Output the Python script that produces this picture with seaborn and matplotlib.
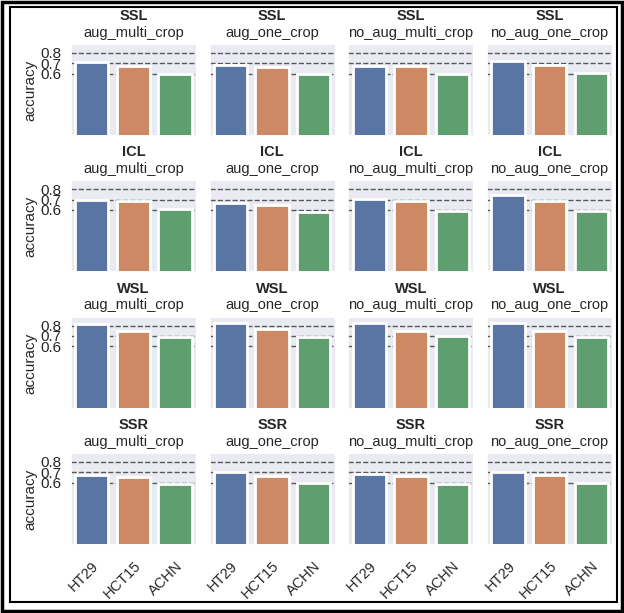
import pandas as pd
import matplotlib.pyplot as plt
import seaborn as sns
from matplotlib.patches import Rectangle

# ----------------------------
# Data
# ----------------------------
methods = ["SSL", "ICL", "WSL", "SSR"]
settings = ["aug_multi_crop", "aug_one_crop", "no_aug_multi_crop", "no_aug_one_crop"]
cell_lines = ["HT29", "HCT15", "ACHN"]

# accuracy per method -> one list per setting, in cell_lines order
ssl_acc = [[0.71, 0.675, 0.60], [0.683, 0.663, 0.592], [0.677, 0.673, 0.592], [0.725, 0.683, 0.609]]
icl_acc = [[0.693, 0.69, 0.606], [0.67, 0.646, 0.583], [0.706, 0.686, 0.59], [0.743, 0.683, 0.59]]
wsl_acc = [[0.813, 0.746, 0.686], [0.82, 0.763, 0.693], [0.826, 0.746, 0.696], [0.823, 0.743, 0.69]]
ssr_acc = [[0.678, 0.659, 0.587], [0.698, 0.666, 0.593], [0.685, 0.666, 0.587], [0.698, 0.669, 0.593]]

yticks = [0.6, 0.7, 0.8]

rows = []
for m, acc in zip(methods, [ssl_acc, icl_acc, wsl_acc, ssr_acc]):
    for s, vals in zip(settings, acc):
        for c, v in zip(cell_lines, vals):
            rows.append({"method": m, "setting": s, "cell_line": c, "accuracy": v})
df = pd.DataFrame(rows)

# ----------------------------
# Style
# ----------------------------
sns.set_theme(style="darkgrid", rc={
    "grid.color": "0.35",
    "grid.linestyle": "--",
    "grid.linewidth": 1.0,
    "axes.facecolor": "#EAEAF2",
})
plt.rcParams["font.family"] = ["Liberation Sans", "DejaVu Sans"]

g = sns.catplot(
    data=df, kind="bar",
    x="cell_line", y="accuracy", hue="cell_line",
    row="method", col="setting",
    row_order=methods, col_order=settings, order=cell_lines,
    palette="deep", edgecolor="white", linewidth=2,
    height=1.5, aspect=1.0, legend=False, errorbar=None,
)
g.figure.set_size_inches(6.24, 6.13)
g.figure.subplots_adjust(left=71/624, right=612/624, top=1-45/613,
                         bottom=1-545/613, wspace=0.11, hspace=0.5)

for i, m in enumerate(methods):
    for j, s in enumerate(settings):
        ax = g.axes[i, j]
        ax.set_ylim(0, 0.875)
        ax.set_yticks(yticks)
        ax.grid(axis="x", visible=False)
        ax.set_title(s, fontsize=10.5, pad=6)
        ax.text(0.5, 1.32, m, transform=ax.transAxes, ha="center",
                va="center", fontsize=10.5, fontweight="bold")
        ax.set_xlabel("")
        ax.tick_params(axis="y", labelsize=11, pad=1)
        if j == 0:
            ax.set_ylabel("accuracy", fontsize=11, labelpad=2)
        else:
            ax.set_ylabel("")
        if i == len(methods) - 1:
            ax.set_xticks(range(len(cell_lines)))
            ax.set_xticklabels(cell_lines, rotation=45, ha="right",
                               rotation_mode="anchor", fontsize=10.5)
            ax.tick_params(axis="x", pad=4)

# frame around the figure
fig = g.figure
fig.patches.append(Rectangle((0.004, 0.004), 0.992, 0.992, transform=fig.transFigure,
                             fill=False, edgecolor="black", linewidth=2.5))
fig.patches.append(Rectangle((0.016, 0.018), 0.972, 0.97, transform=fig.transFigure,
                             fill=False, edgecolor="black", linewidth=1.5))

plt.savefig("out.png", dpi=100)
